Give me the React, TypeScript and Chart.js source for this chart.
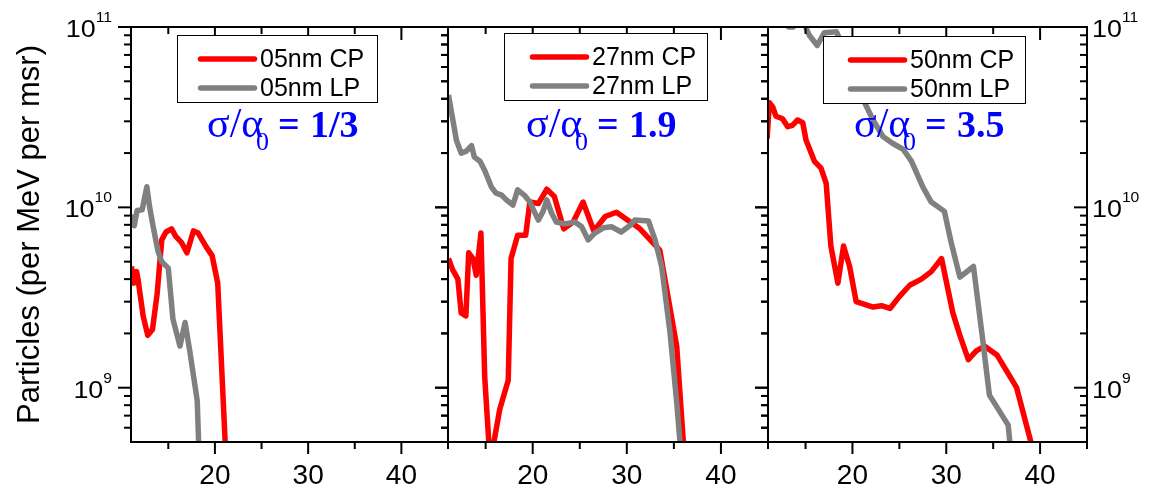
import React, { useEffect, useRef } from 'react';
import { Chart, registerables } from 'chart.js';

Chart.register(...registerables);

const WIDTH = 1153;
const HEIGHT = 487;
const SANS = '"Liberation Sans", Arial, Helvetica, sans-serif';
const SERIF = '"Liberation Serif", "Times New Roman", serif';

// ---------- axis definitions ----------
const xMin = 11;
const xMax = 45;
const yMin = 5e8;
const yMax = 1e11;
const xTickValues = [15, 20, 25, 30, 35, 40, 45];
const xTickLabels = ['', '20', '', '30', '', '40', ''];
const xMajorTicks = [20, 30, 40];
const xMinorTicks = [15, 25, 35, 45];
const yMajorTicks = [1e9, 1e10, 1e11];
const yMajorExponents = ['9', '10', '11'];
const yMinorTicks = [6e8, 7e8, 8e8, 9e8, 2e9, 3e9, 4e9, 5e9, 6e9, 7e9, 8e9, 9e9, 2e10, 3e10, 4e10, 5e10, 6e10, 7e10, 8e10, 9e10];
const yAxisTitle = 'Particles (per MeV per msr)';

// ---------- series ----------
const seriesNames = ['05nm', '27nm', '50nm'];
const sigmaRatios = ['1/3', '1.9', '3.5'];

const x05CP = [11.05, 11.3, 11.6, 11.75, 12.3, 12.8, 13.3, 13.8, 14.3, 14.75, 15.35, 15.8, 16.4, 17.0, 17.7, 18.2, 19.1, 19.7, 20.3, 21.3];
const y05CP = [4.7e9, 3.8e9, 4.4e9, 4.0e9, 2.5e9, 1.95e9, 2.1e9, 3.3e9, 6.6e9, 7.3e9, 7.6e9, 6.9e9, 6.4e9, 5.6e9, 7.4e9, 7.2e9, 6.0e9, 5.4e9, 3.8e9, 3.0e8];
const x05LP = [11.05, 11.35, 11.65, 12.2, 12.7, 13.0, 13.4, 13.9, 14.3, 15.0, 15.5, 16.25, 16.8, 17.3, 18.1, 18.4];
const y05LP = [9.1e9, 7.9e9, 9.6e9, 9.7e9, 1.3e10, 1.0e10, 7.7e9, 5.7e9, 5.0e9, 4.6e9, 2.4e9, 1.7e9, 2.3e9, 1.6e9, 8.5e8, 3.0e8];

const x27CP = [11.05, 11.5, 12.05, 12.4, 12.9, 13.2, 13.65, 14.0, 14.5, 14.9, 15.45, 15.55, 16.5, 17.4, 17.7, 18.4, 19.25, 19.7, 20.6, 21.5, 22.3, 23.3, 24.3, 25.35, 26.5, 27.7, 28.9, 31.4, 33.5, 35.3, 36.3];
const y27CP = [5.2e9, 4.5e9, 4.0e9, 2.6e9, 2.5e9, 5.6e9, 5.2e9, 4.2e9, 7.2e9, 1.15e9, 4.0e8, 4.0e8, 7.6e8, 1.1e9, 5.2e9, 7.0e9, 7.0e9, 1.07e10, 1.05e10, 1.26e10, 1.15e10, 7.6e9, 8.3e9, 1.07e10, 7.4e9, 8.9e9, 9.4e9, 7.6e9, 5.8e9, 1.7e9, 3.0e8];
const x27LP = [11.05, 11.9, 12.4, 12.95, 13.5, 13.8, 14.4, 14.9, 15.6, 16.1, 16.7, 17.2, 17.9, 18.4, 19.1, 19.7, 20.6, 21.1, 21.5, 22.0, 22.5, 23.4, 24.5, 25.2, 25.9, 26.6, 27.5, 28.4, 29.4, 30.3, 30.85, 32.3, 33.0, 33.7, 34.6, 35.3, 36.0];
const y27LP = [4.2e10, 2.35e10, 2.0e10, 2.05e10, 2.2e10, 1.9e10, 1.8e10, 1.6e10, 1.3e10, 1.2e10, 1.17e10, 1.1e10, 1.03e10, 1.25e10, 1.17e10, 1.07e10, 8.5e9, 9.5e9, 1.1e10, 9.3e9, 8.3e9, 8.1e9, 8.3e9, 7.8e9, 6.6e9, 7.2e9, 7.7e9, 7.8e9, 7.3e9, 7.9e9, 8.5e9, 8.4e9, 6.6e9, 4.7e9, 2.0e9, 8.3e8, 3.0e8];

const x50CP = [10.9, 11.15, 11.5, 11.85, 12.55, 13.1, 13.6, 14.15, 14.7, 15.05, 15.95, 16.65, 17.2, 17.7, 18.45, 19.05, 19.7, 20.4, 22.2, 23.1, 24.0, 25.0, 26.1, 27.35, 28.4, 29.5, 30.7, 31.45, 32.35, 33.2, 34.1, 35.4, 37.5, 39.8];
const y50CP = [2.4e10, 3.8e10, 3.6e10, 3.2e10, 3.1e10, 2.8e10, 2.85e10, 3.05e10, 2.95e10, 2.36e10, 1.8e10, 1.65e10, 1.36e10, 6.1e9, 3.8e9, 6.1e9, 4.7e9, 3.0e9, 2.8e9, 2.85e9, 2.75e9, 3.2e9, 3.7e9, 4.0e9, 4.4e9, 5.2e9, 2.6e9, 1.95e9, 1.43e9, 1.6e9, 1.7e9, 1.52e9, 1.0e9, 3.5e8];
const x50LP = [11.0, 12.5, 13.2, 13.7, 14.5, 15.4, 16.25, 17.0, 18.3, 20.0, 21.3, 22.2, 23.25, 24.3, 25.4, 26.3, 27.5, 28.4, 29.8, 30.55, 31.45, 32.9, 33.8, 34.6, 36.6, 37.2];
const y50LP = [1.5e11, 1.08e11, 1.0e11, 1.0e11, 1.15e11, 9.0e10, 7.9e10, 9.3e10, 9.4e10, 6.0e10, 3.8e10, 3.05e10, 2.47e10, 2.26e10, 2.1e10, 1.8e10, 1.3e10, 1.07e10, 9.5e9, 6.3e9, 4.1e9, 4.7e9, 2.0e9, 9.1e8, 6.2e8, 3.0e8];

const cpX = [x05CP, x27CP, x50CP];
const cpY = [y05CP, y27CP, y50CP];
const lpX = [x05LP, x27LP, x50LP];
const lpY = [y05LP, y27LP, y50LP];

const CP_COLOR = '#ff0000';
const LP_COLOR = '#808080';
const NOTE_COLOR = '#0000ff';

// ---------- layout (pixels) ----------
const PLOT_TOP = 27;
const PLOT_BOTTOM = 442;
const PANELS = [
  { left: 131, right: 448, legendX: 177, legendY: 35, legendW: 200, sampleX: 21, noteX: 208, labels: 'left' },
  { left: 448, right: 768, legendX: 504, legendY: 33, legendW: 203, sampleX: 26, noteX: 527, labels: 'none' },
  { left: 768, right: 1087, legendX: 823, legendY: 36, legendW: 202, sampleX: 25, noteX: 855, labels: 'right' },
];

function toPoints(xs: number[], ys: number[]) {
  return xs.map((x, i) => ({ x, y: ys[i] }));
}

function drawPower(ctx: CanvasRenderingContext2D, exp: string, x: number, yTick: number, align: 'left' | 'right') {
  const sx = 1.12;
  ctx.save();
  ctx.fillStyle = '#000';
  ctx.textBaseline = 'alphabetic';
  ctx.textAlign = 'left';
  ctx.font = `24px ${SANS}`;
  const wb = ctx.measureText('10').width;
  ctx.font = `14px ${SANS}`;
  const we = ctx.measureText(exp).width;
  const total = (wb + we) * sx;
  const x0 = align === 'right' ? x - total : x;
  ctx.translate(x0, 0);
  ctx.scale(sx, 1);
  ctx.font = `24px ${SANS}`;
  ctx.fillText('10', 0, yTick + 10);
  ctx.font = `14px ${SANS}`;
  ctx.fillText(exp, wb, yTick - 5);
  ctx.restore();
}

function makeDecorPlugin(index: number) {
  const p = PANELS[index];
  return {
    id: 'panelDecor' + index,
    afterDraw(chart: any) {
      const ctx: CanvasRenderingContext2D = chart.ctx;
      const { left, right, top, bottom } = chart.chartArea;
      const xs = chart.scales.x;
      const ys = chart.scales.y;
      ctx.save();
      // frame
      ctx.strokeStyle = '#000';
      ctx.lineWidth = 2;
      ctx.lineCap = 'butt';
      ctx.strokeRect(left, top, right - left, bottom - top);
      const seg = (x1: number, y1: number, x2: number, y2: number) => {
        ctx.beginPath();
        ctx.moveTo(x1, y1);
        ctx.lineTo(x2, y2);
        ctx.stroke();
      };
      yMajorTicks.forEach((v) => {
        const y = ys.getPixelForValue(v);
        seg(left - 13, y, left, y);
        seg(right - 13, y, right, y);
      });
      yMinorTicks.forEach((v) => {
        const y = ys.getPixelForValue(v);
        seg(left - 7, y, left, y);
        seg(right - 7, y, right, y);
      });
      xMajorTicks.forEach((v) => {
        const x = xs.getPixelForValue(v);
        seg(x, bottom, x, bottom + 12);
        seg(x, top, x, top + 13);
      });
      xMinorTicks.forEach((v) => {
        const x = xs.getPixelForValue(v);
        seg(x, bottom, x, bottom + 7);
        seg(x, top, x, top + 7);
      });

      // y tick labels
      if (p.labels === 'left') {
        yMajorTicks.forEach((v, i) => drawPower(ctx, yMajorExponents[i], left - 19, ys.getPixelForValue(v), 'right'));
        // axis title
        ctx.save();
        ctx.translate(39, (top + bottom) / 2);
        ctx.rotate(-Math.PI / 2);
        ctx.fillStyle = '#000';
        ctx.font = `31px ${SANS}`;
        ctx.textAlign = 'center';
        ctx.textBaseline = 'alphabetic';
        ctx.fillText(yAxisTitle, 0, 0);
        ctx.restore();
      } else if (p.labels === 'right') {
        yMajorTicks.forEach((v, i) => drawPower(ctx, yMajorExponents[i], right + 5, ys.getPixelForValue(v), 'left'));
      }

      // legend box
      const lx = p.legendX;
      const ly = p.legendY;
      const lh = 67;
      ctx.fillStyle = '#fff';
      ctx.fillRect(lx, ly, p.legendW, lh);
      ctx.strokeStyle = '#000';
      ctx.lineWidth = 1;
      ctx.strokeRect(lx + 0.5, ly + 0.5, p.legendW, lh);
      chart.data.datasets.forEach((ds: any, i: number) => {
        const cy = ly + 24 + i * 29;
        ctx.strokeStyle = ds.borderColor;
        ctx.lineWidth = 5.5;
        ctx.lineCap = 'round';
        seg(lx + p.sampleX + 2.5, cy, lx + p.sampleX + 56.5, cy);
        ctx.fillStyle = '#000';
        ctx.font = `25px ${SANS}`;
        ctx.textAlign = 'left';
        ctx.textBaseline = 'alphabetic';
        ctx.fillText(ds.label, lx + p.sampleX + 62, cy + 8);
      });

      // sigma annotation
      const nx = p.noteX;
      const base = 137;
      ctx.fillStyle = NOTE_COLOR;
      ctx.textAlign = 'left';
      ctx.textBaseline = 'alphabetic';
      ctx.font = `42px ${SERIF}`;
      ctx.fillText('σ/α', nx - 1, base);
      ctx.font = `26px ${SERIF}`;
      ctx.fillText('0', nx + 48, base + 13);
      ctx.font = `bold 38px ${SERIF}`;
      ctx.fillText('=', nx + 70, base);
      ctx.fillText(sigmaRatios[index], nx + 102, base);
      ctx.restore();
    },
  };
}

function makeConfig(index: number): any {
  const p = PANELS[index];
  return {
    type: 'line',
    data: {
      datasets: [
        {
          label: `${seriesNames[index]} CP`,
          data: toPoints(cpX[index], cpY[index]),
          borderColor: CP_COLOR,
          backgroundColor: CP_COLOR,
          borderWidth: 5.5,
          borderJoinStyle: 'round',
          pointRadius: 0,
          tension: 0,
          fill: false,
          clip: 0,
          order: 1,
        },
        {
          label: `${seriesNames[index]} LP`,
          data: toPoints(lpX[index], lpY[index]),
          borderColor: LP_COLOR,
          backgroundColor: LP_COLOR,
          borderWidth: 5.5,
          borderJoinStyle: 'round',
          pointRadius: 0,
          tension: 0,
          fill: false,
          clip: 0,
          order: 0,
        },
      ],
    },
    options: {
      animation: false,
      responsive: false,
      devicePixelRatio: 1,
      layout: { padding: { left: p.left, right: WIDTH - p.right, top: PLOT_TOP, bottom: 0 } },
      plugins: { legend: { display: false }, tooltip: { enabled: false }, title: { display: false } },
      scales: {
        x: {
          type: 'linear',
          min: xMin,
          max: xMax,
          grid: { display: false, drawTicks: false },
          border: { display: false },
          afterBuildTicks: (s: any) => {
            s.ticks = xTickValues.map((v) => ({ value: v }));
          },
          afterFit: (s: any) => {
            s.height = HEIGHT - PLOT_BOTTOM;
          },
          ticks: {
            autoSkip: false,
            maxRotation: 0,
            minRotation: 0,
            padding: 17,
            color: '#000',
            font: { family: SANS, size: 28 },
            callback: (v: number) => {
              const i = xTickValues.indexOf(v);
              return i >= 0 ? xTickLabels[i] : '';
            },
          },
        },
        y: {
          type: 'logarithmic',
          min: yMin,
          max: yMax,
          display: false,
        },
      },
    },
    plugins: [makeDecorPlugin(index)],
  };
}

export default function App() {
  const r0 = useRef<HTMLCanvasElement>(null);
  const r1 = useRef<HTMLCanvasElement>(null);
  const r2 = useRef<HTMLCanvasElement>(null);
  const refs = [r0, r1, r2];
  useEffect(() => {
    const charts = refs.map((r, i) => new Chart(r.current as HTMLCanvasElement, makeConfig(i)));
    return () => charts.forEach((c) => c.destroy());
  }, []);
  return (
    <div style={{ position: 'fixed', left: 0, top: 0, width: WIDTH, height: HEIGHT, background: '#fff' }}>
      {refs.map((r, i) => (
        <canvas
          key={i}
          ref={r}
          width={WIDTH}
          height={HEIGHT}
          style={{ position: 'absolute', left: 0, top: 0, width: WIDTH, height: HEIGHT }}
        />
      ))}
    </div>
  );
}
